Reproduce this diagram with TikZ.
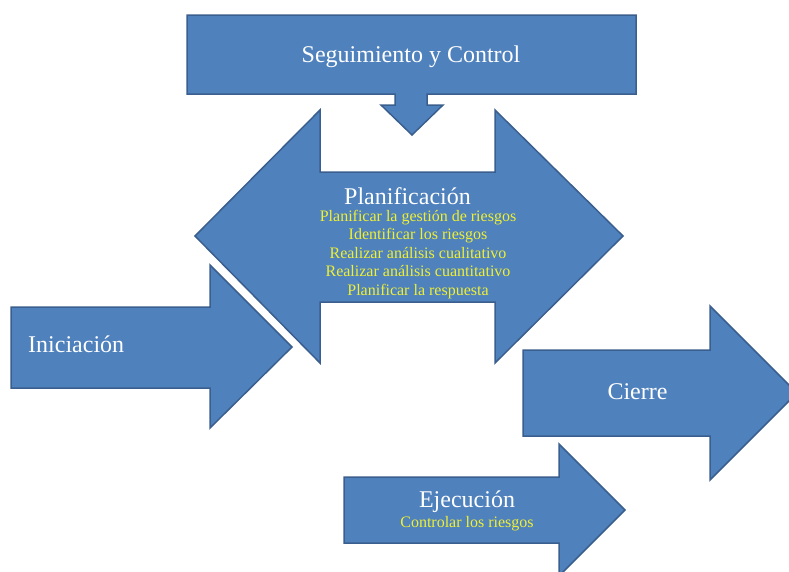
\documentclass[tikz,border=0pt]{standalone}
\usepackage{fontspec}
\setmainfont{Liberation Serif}
\definecolor{shapefill}{HTML}{4F81BD}
\definecolor{shapeedge}{HTML}{3A5F8E}
\definecolor{tasktext}{HTML}{F0F032}
\begin{document}
\begin{tikzpicture}[x=1pt,y=-1pt,
  block/.style={fill=shapefill,draw=shapeedge,line width=1.5pt,line join=miter},
  phase/.style={text=white,font=\fontsize{24}{28}\selectfont,inner sep=0pt,anchor=base},
  task/.style={text=tasktext,font=\fontsize{16}{18}\selectfont,inner sep=0pt,anchor=base}]
\useasboundingbox (0,0) rectangle (789,571);
\begin{scope}
\clip (0,0) rectangle (789,571);
% monitoring bar with its downward arrow
\draw[block] (187,15) -- (636,15) -- (636,94) -- (427,94) -- (427,105) -- (443,105)
  -- (412,135) -- (381,105) -- (395,105) -- (395,94) -- (187,94) -- cycle;
% planning: double-headed arrow
\draw[block] (195,236) -- (320,110) -- (320,172) -- (495,172) -- (495,110) -- (623,236)
  -- (495,363) -- (495,302) -- (320,302) -- (320,363) -- cycle;
% initiation arrow
\draw[block] (11,307) -- (210,307) -- (210,265) -- (292,347) -- (210,428) -- (210,388)
  -- (11,388) -- cycle;
% closing arrow
\draw[block] (523,350) -- (710,350) -- (710,306) -- (797,393) -- (710,480) -- (710,436)
  -- (523,436) -- cycle;
% execution arrow
\draw[block] (344,477) -- (559,477) -- (559,444) -- (625,510) -- (559,576) -- (559,543)
  -- (344,543) -- cycle;
\end{scope}

\node[phase] (seg) at (411,62) {Seguimiento y Control};
\node[phase] (plan) at (407.5,204.5) {Planificación};
\node[task] (p1) at (418,221) {Planificar la gestión de riesgos};
\node[task] (p2) at (418,239.5) {Identificar los riesgos};
\node[task] (p3) at (418,258) {Realizar análisis cualitativo};
\node[task] (p4) at (418,276.5) {Realizar análisis cuantitativo};
\node[task] (p5) at (418,295) {Planificar la respuesta};
\node[phase,anchor=base west] (ini) at (28,352) {Iniciación};
\node[phase] (cie) at (637.5,399) {Cierre};
\node[phase] (eje) at (467,507) {Ejecución};
\node[task] (e1) at (467,527) {Controlar los riesgos};
\end{tikzpicture}
\end{document}
